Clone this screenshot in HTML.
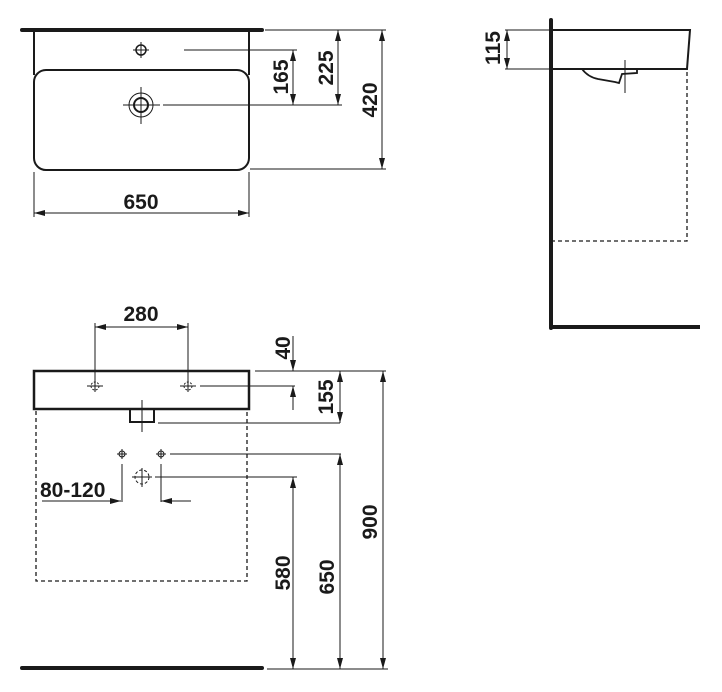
<!DOCTYPE html>
<html><head><meta charset="utf-8"><style>
html,body{margin:0;padding:0;background:#fff;}
svg{display:block;}
text{font-family:"Liberation Sans Narrow","Liberation Sans",sans-serif;font-weight:bold;font-size:21px;fill:#1a1a1a;}
</style></head><body>
<svg width="722" height="692" viewBox="0 0 722 692" xmlns="http://www.w3.org/2000/svg">
<g stroke="#1a1a1a" fill="none">
<!-- TOP VIEW -->
<line x1="22" y1="30" x2="262" y2="30" stroke-width="4" stroke-linecap="round"/>
<line x1="34" y1="32" x2="34" y2="75" stroke-width="2"/>
<line x1="249" y1="32" x2="249" y2="75" stroke-width="2"/>
<rect x="34" y="70" width="215" height="100" rx="12" stroke-width="2"/>
<circle cx="141" cy="50" r="5" stroke-width="1.5"/>
<line x1="133" y1="50" x2="149" y2="50" stroke-width="1"/><line x1="141" y1="42" x2="141" y2="58" stroke-width="1"/>
<circle cx="141" cy="105" r="7" stroke-width="2"/><circle cx="141" cy="105" r="12" stroke-width="1"/>
<line x1="123" y1="105" x2="160" y2="105" stroke-width="1"/><line x1="141" y1="87" x2="141" y2="124" stroke-width="1"/>
<g stroke-width="1">
<line x1="184" y1="50" x2="297" y2="50"/>
<line x1="163" y1="105" x2="342" y2="105"/>
<line x1="265" y1="30" x2="386" y2="30"/>
<line x1="250" y1="169" x2="386" y2="169"/>
<line x1="293" y1="50" x2="293" y2="105"/>
<line x1="338" y1="30" x2="338" y2="105"/>
<line x1="382" y1="30" x2="382" y2="169"/>
<line x1="34" y1="172" x2="34" y2="217"/><line x1="249" y1="172" x2="249" y2="217"/>
<line x1="34" y1="213" x2="249" y2="213"/>
</g>
<!-- SIDE VIEW -->
<line x1="551" y1="20" x2="551" y2="328" stroke-width="4" stroke-linecap="round"/>
<line x1="551" y1="327" x2="700" y2="327" stroke-width="4"/>
<path d="M553,30 L690,30 L687,69 L553,69" stroke-width="2"/>
<path d="M582,69 Q588,77 598,79 L615,82 L619,83 L622,74 L637,73 L637,69" stroke-width="1.8"/>
<line x1="625" y1="60" x2="625" y2="93" stroke-width="1"/>
<path d="M687,72 L687,241 L553,241" stroke-width="1.3" stroke-dasharray="4,3"/>
<g stroke-width="1">
<line x1="505" y1="30" x2="549" y2="30"/><line x1="505" y1="69" x2="549" y2="69"/>
<line x1="507" y1="30" x2="507" y2="69"/>
</g>
<!-- FRONT VIEW -->
<g stroke-width="1">
<line x1="95" y1="323" x2="95" y2="385"/><line x1="188" y1="323" x2="188" y2="385"/>
<line x1="95" y1="327" x2="188" y2="327"/>
</g>
<rect x="34" y="371" width="215" height="38" stroke-width="2.5"/>
<path d="M130,409 L130,422 L154,422 L154,409" stroke-width="2"/>
<line x1="142" y1="400" x2="142" y2="432" stroke-width="1"/>
<g stroke-width="1">
<circle cx="95" cy="386" r="4" stroke-dasharray="2,1.5"/><line x1="87" y1="386" x2="103" y2="386"/><line x1="95" y1="380" x2="95" y2="392"/>
<circle cx="188" cy="386" r="4" stroke-dasharray="2,1.5"/><line x1="180" y1="386" x2="196" y2="386"/><line x1="188" y1="380" x2="188" y2="392"/>
<line x1="200" y1="386" x2="295" y2="386"/>
<line x1="158" y1="423" x2="340" y2="423"/>
<line x1="255" y1="371" x2="386" y2="371"/>
<line x1="293" y1="336" x2="293" y2="371"/>
<line x1="293" y1="410" x2="293" y2="386"/>
<line x1="340" y1="371" x2="340" y2="423"/>
<line x1="383" y1="371" x2="383" y2="669"/>
<circle cx="122" cy="454" r="3"/><line x1="117" y1="454" x2="127" y2="454"/><line x1="122" y1="449" x2="122" y2="459"/>
<circle cx="161" cy="454" r="3"/><line x1="156" y1="454" x2="166" y2="454"/><line x1="161" y1="449" x2="161" y2="459"/>
<circle cx="142" cy="477" r="7" stroke-dasharray="3,2"/><line x1="132" y1="477" x2="152" y2="477"/><line x1="142" y1="468" x2="142" y2="487"/>
<line x1="170" y1="454" x2="341" y2="454"/>
<line x1="155" y1="477" x2="297" y2="477"/>
<line x1="340" y1="454" x2="340" y2="669"/>
<line x1="293" y1="477" x2="293" y2="669"/>
<line x1="122" y1="464" x2="122" y2="502"/><line x1="161" y1="464" x2="161" y2="502"/>
<line x1="42" y1="501" x2="121" y2="501"/>
<line x1="191" y1="501" x2="161" y2="501"/>
<line x1="267" y1="669" x2="388" y2="669"/>
</g>
<path d="M36,411 L36,581 L247,581 L247,411" stroke-width="1.3" stroke-dasharray="4,3"/>
<line x1="22" y1="668" x2="262" y2="668" stroke-width="4" stroke-linecap="round"/>
</g>
<!-- ARROWHEADS -->
<g fill="#1a1a1a">
<!-- up arrows: tip (x,y) -->
<polygon points="290,61 293,50 296,61"/>
<polygon points="335,41 338,30 341,41"/>
<polygon points="379,41 382,30 385,41"/>
<polygon points="504,41 507,30 510,41"/>
<polygon points="290,397 293,386 296,397"/>
<polygon points="337,382 340,371 343,382"/>
<polygon points="380,382 383,371 386,382"/>
<polygon points="337,465 340,454 343,465"/>
<polygon points="290,488 293,477 296,488"/>
<!-- down arrows -->
<polygon points="290,94 293,105 296,94"/>
<polygon points="335,94 338,105 341,94"/>
<polygon points="379,158 382,169 385,158"/>
<polygon points="504,58 507,69 510,58"/>
<polygon points="290,360 293,371 296,360"/>
<polygon points="337,412 340,423 343,412"/>
<polygon points="380,658 383,669 386,658"/>
<polygon points="337,658 340,669 343,658"/>
<polygon points="290,658 293,669 296,658"/>
<!-- horizontal -->
<polygon points="45,210 34,213 45,216"/>
<polygon points="238,210 249,213 238,216"/>
<polygon points="106,324 95,327 106,330"/>
<polygon points="177,324 188,327 177,330"/>
<polygon points="110,498 121,501 110,504"/>
<polygon points="172,498 161,501 172,504"/>
</g>
<!-- TEXT -->
<text x="141" y="209" text-anchor="middle">650</text>
<text transform="translate(288,77) rotate(-90)" text-anchor="middle">165</text>
<text transform="translate(333,68) rotate(-90)" text-anchor="middle">225</text>
<text transform="translate(377,100) rotate(-90)" text-anchor="middle">420</text>
<text transform="translate(500,48) rotate(-90)" text-anchor="middle">115</text>
<text x="141" y="321" text-anchor="middle">280</text>
<text transform="translate(290,348) rotate(-90)" text-anchor="middle">40</text>
<text transform="translate(333,397) rotate(-90)" text-anchor="middle">155</text>
<text transform="translate(377,522) rotate(-90)" text-anchor="middle">900</text>
<text transform="translate(334,577) rotate(-90)" text-anchor="middle">650</text>
<text transform="translate(290,573) rotate(-90)" text-anchor="middle">580</text>
<text x="40" y="497">80-120</text>
</svg>
</body></html>
